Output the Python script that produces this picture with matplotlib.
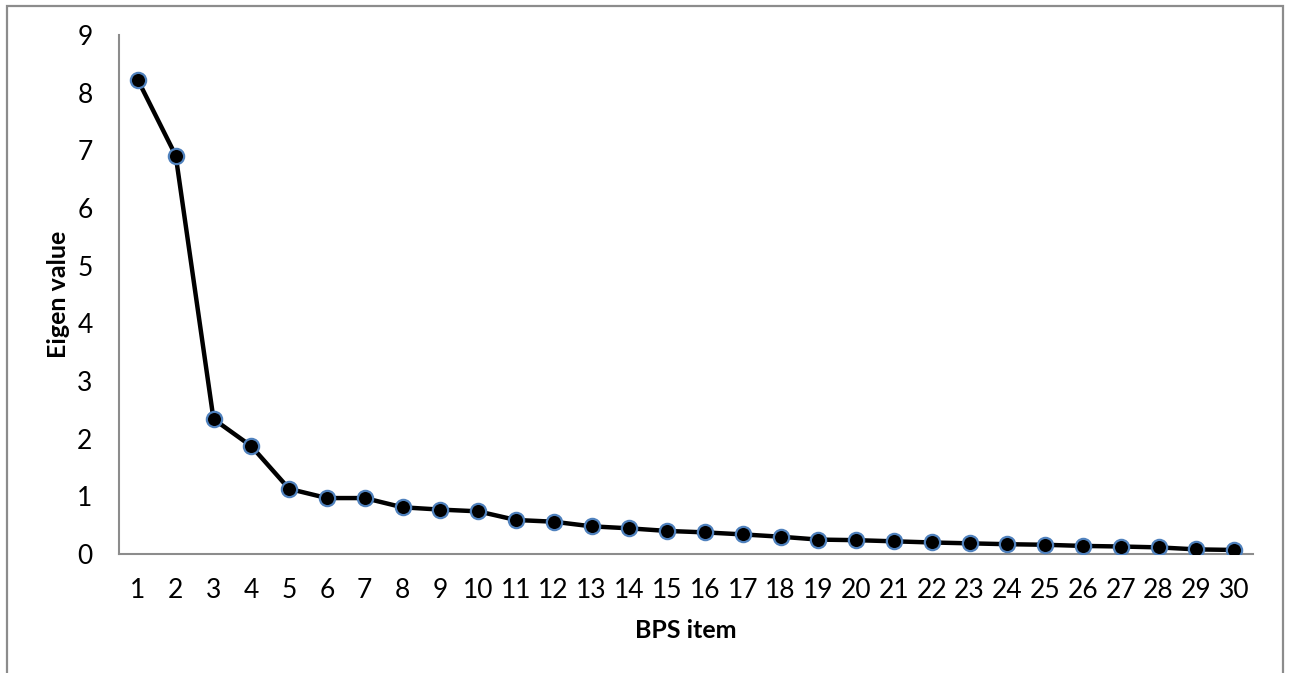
import matplotlib.pyplot as plt
from matplotlib.patches import Rectangle

# Scree plot data
items = list(range(1, 31))
eigen_values = [8.22, 6.91, 2.34, 1.87, 1.13, 0.97, 0.97, 0.81, 0.77, 0.74,
                0.59, 0.56, 0.48, 0.445, 0.40, 0.375, 0.34, 0.30, 0.25, 0.24,
                0.22, 0.20, 0.185, 0.17, 0.16, 0.14, 0.13, 0.115, 0.08, 0.07]
y_ticks = list(range(0, 10))

plt.rcParams['font.family'] = ['Lato', 'DejaVu Sans']

fig = plt.figure(figsize=(12.9, 6.73), dpi=100)
ax = fig.add_axes([119 / 1290, 1 - 554 / 673, (1253 - 119) / 1290, (554 - 35) / 673])

# outer chart border (bottom edge is cut off in the original)
fig.patches.append(Rectangle((7 / 1290, -0.01), (1283 - 7) / 1290, 1.01 - 6 / 673,
                             transform=fig.transFigure, fill=False,
                             edgecolor='#8c8c8c', linewidth=1.6))

ax.plot(items, eigen_values, color='black', linewidth=3.2, marker='o',
        markersize=11, markerfacecolor='black', markeredgecolor='#4f81bd',
        markeredgewidth=1.6, zorder=3)

ax.set_xlim(0.5, 30.5)
ax.set_ylim(0, 9)
ax.set_xticks(items)
ax.set_yticks(y_ticks)
ax.tick_params(length=0, labelsize=19, colors='black')
ax.tick_params(axis='x', pad=17)
ax.tick_params(axis='y', pad=19)

for side in ['top', 'right']:
    ax.spines[side].set_visible(False)
for side in ['left', 'bottom']:
    ax.spines[side].set_color('#8c8c8c')
    ax.spines[side].set_linewidth(1.5)

ax.set_xlabel('BPS item', fontsize=18, fontweight='bold', labelpad=12)
ax.set_ylabel('Eigen value', fontsize=18, fontweight='bold', va='center')
ax.yaxis.set_label_coords(-0.053, 0.5)

fig.savefig('out.png', dpi=100)
